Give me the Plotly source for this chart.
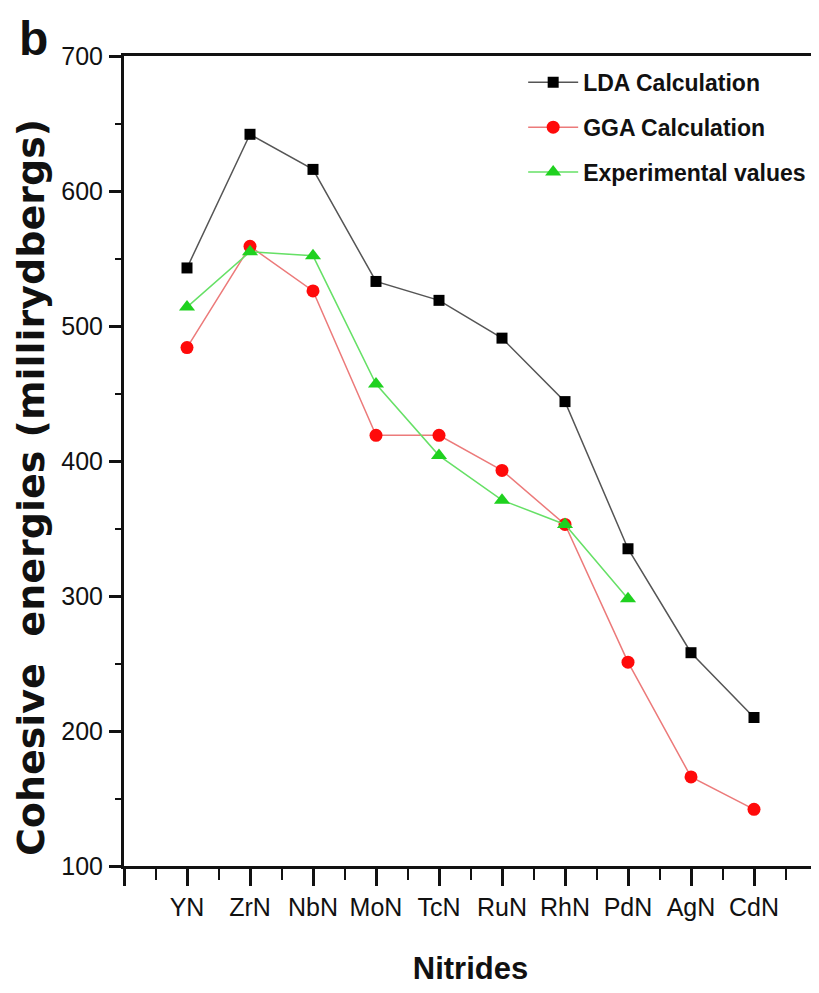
import plotly.graph_objects as go

nitrides = ["YN", "ZrN", "NbN", "MoN", "TcN", "RuN", "RhN", "PdN", "AgN", "CdN"]
positions = [1, 2, 3, 4, 5, 6, 7, 8, 9, 10]
lda = [543, 642, 616, 533, 519, 491, 444, 335, 258, 210]
gga = [484, 559, 526, 419, 419, 393, 353, 251, 166, 142]
exp_pos = [1, 2, 3, 4, 5, 6, 7, 8]
exp_vals = [514, 555, 552, 457, 404, 371, 353, 298]

fig = go.Figure()
fig.add_trace(go.Scatter(
    x=positions, y=lda, mode="lines+markers", name="LDA Calculation",
    legendgroup="a",
    line=dict(color="#555555", width=1.5),
    marker=dict(symbol="square", size=11, color="black"),
))
fig.add_trace(go.Scatter(
    x=positions, y=gga, mode="lines+markers", name="GGA Calculation",
    legendgroup="b",
    line=dict(color="#ec7a7a", width=1.5),
    marker=dict(symbol="circle", size=13, color="#ff0a0a"),
))
fig.add_trace(go.Scatter(
    x=exp_pos, y=exp_vals, mode="lines+markers", name="Experimental values",
    legendgroup="c",
    line=dict(color="#66e066", width=1.5),
    marker=dict(symbol="triangle-up", size=14, color="#1fd11f"),
))

tickfont = dict(family="Liberation Sans, Arial", size=25, color="#111")

fig.update_layout(
    width=819, height=993,
    margin=dict(l=116, r=10, t=48, b=135),
    plot_bgcolor="white", paper_bgcolor="white",
    showlegend=True,
    legend=dict(
        x=0.576, y=0.994, xanchor="left", yanchor="top",
        font=dict(family="Liberation Sans, Arial", size=23, color="#111", weight="bold"),
        tracegroupgap=12, bgcolor="rgba(0,0,0,0)", itemwidth=50,
    ),
    xaxis=dict(
        range=[0, 11], tickmode="array",
        tickvals=[0] + positions + [11], ticktext=[""] + nitrides + [""],
        ticks="outside", ticklen=17, tickwidth=2.5, tickcolor="#111",
        showline=True, linecolor="#111", linewidth=3, mirror=True,
        showgrid=False, zeroline=False, tickfont=tickfont,
        minor=dict(tickvals=[i + 0.5 for i in range(11)], ticks="outside", ticklen=11, tickwidth=2, tickcolor="#111"),
        title=dict(text="<b>Nitrides</b>", font=dict(family="Liberation Sans, Arial", size=31, color="#111"), standoff=38),
    ),
    yaxis=dict(
        range=[100, 700], tickmode="linear", tick0=100, dtick=100,
        ticks="outside", ticklen=12, tickwidth=2.5, tickcolor="#111",
        showline=True, linecolor="#111", linewidth=3,
        showgrid=False, zeroline=False, tickfont=tickfont, ticklabelstandoff=1,
        minor=dict(tick0=150, dtick=100, ticks="outside", ticklen=6, tickwidth=2, tickcolor="#111"),
    ),
    yaxis2=dict(
        range=[100, 700], overlaying="y", side="right", anchor="x",
        showline=True, linecolor="#777", linewidth=1.2,
        ticks="inside", ticklen=4, tickwidth=1, tickcolor="#777",
        tickmode="linear", tick0=100, dtick=50, showticklabels=False,
        showgrid=False, zeroline=False,
    ),
)

fig.add_annotation(
    text="<b>Cohesive&nbsp; energies (millirydbergs)</b>", textangle=-90,
    xref="paper", yref="paper", x=-0.134, y=0.4667,
    xanchor="center", yanchor="middle", showarrow=False,
    font=dict(family="DejaVu Sans, Liberation Sans", size=38, color="#111"),
)

fig.add_annotation(
    text="<b>b</b>", xref="paper", yref="paper", x=-0.131, y=1.022,
    xanchor="center", yanchor="middle", showarrow=False,
    font=dict(family="Liberation Sans, Arial", size=48, color="#111"),
)

fig.write_html("out.html")
